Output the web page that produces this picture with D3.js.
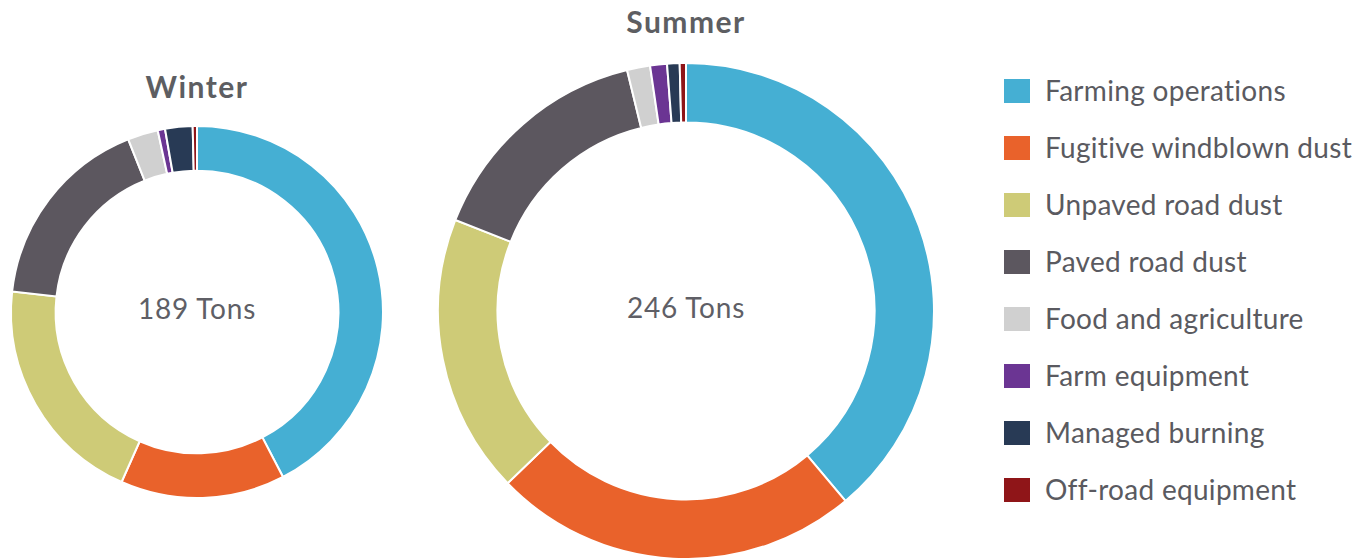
<!DOCTYPE html>
<html>
<head>
<meta charset="utf-8">
<script src="https://cdn.jsdelivr.net/npm/d3@7"></script>
<style>
  body { margin: 0; background: #fff; }
  svg { display: block; font-family: Lato, "Open Sans", sans-serif; }
</style>
</head>
<body>
<svg id="chart" width="1369" height="558"></svg>
<script>
// sources, in legend order
var categories = ["Farming operations", "Fugitive windblown dust", "Unpaved road dust",
  "Paved road dust", "Food and agriculture", "Farm equipment", "Managed burning", "Off-road equipment"];
var colors = ["#45afd3", "#e9622b", "#cecb77", "#5c575f", "#d0d0d0", "#6b3593", "#283a55", "#8f1518"];

// tons per source
var winterValues = [80, 27, 38, 32.5, 5, 1.2, 4.5, 0.7];
var summerValues = [95.7, 58.8, 44.8, 37.4, 3.7, 2.7, 2, 1];

var seasons = ["Winter", "Summer"];
var totals = ["189 Tons", "246 Tons"];

var svg = d3.select("#chart");
var color = d3.scaleOrdinal().domain(categories).range(colors);

var pie = d3.pie().sort(null).value(function(d) { return d.value; });

function donut(name, total, values, cx, cy, r, titleY) {
  var g = svg.append("g").attr("transform", "translate(" + cx + "," + cy + ")");
  var arc = d3.arc().innerRadius(r * 0.76).outerRadius(r);
  var rows = categories.map(function(c, i) { return {cat: c, value: values[i]}; });

  g.selectAll("path")
    .data(pie(rows))
    .enter().append("path")
    .attr("d", arc)
    .attr("fill", function(d) { return color(d.data.cat); })
    .attr("stroke", "#fff")
    .attr("stroke-width", 2);

  g.append("text")
    .attr("text-anchor", "middle")
    .attr("dy", "0.35em")
    .attr("y", -3)
    .style("font-size", "28px")
    .style("letter-spacing", "0.8px")
    .style("fill", "#5f5f66")
    .text(total);

  svg.append("text")
    .attr("x", cx)
    .attr("y", titleY)
    .attr("text-anchor", "middle")
    .attr("dy", "0.35em")
    .style("font-size", "30px")
    .style("font-weight", "bold")
    .style("letter-spacing", "1.5px")
    .style("fill", "#5d5e62")
    .text(name);
}

donut(seasons[0], totals[0], winterValues, 197, 312, 186, 87);
donut(seasons[1], totals[1], summerValues, 686, 311, 248, 22);

// legend
var legend = svg.append("g").attr("transform", "translate(1004,91)");
var item = legend.selectAll(".item")
  .data(categories)
  .enter().append("g")
  .attr("class", "item")
  .attr("transform", function(d, i) { return "translate(0," + i * 57 + ")"; });

item.append("rect")
  .attr("y", -12)
  .attr("width", 26)
  .attr("height", 24)
  .attr("fill", function(d) { return color(d); });

item.append("text")
  .attr("x", 41)
  .attr("dy", "0.35em")
  .style("font-size", "28px")
  .style("letter-spacing", "0.3px")
  .style("fill", "#5a5a60")
  .text(function(d) { return d; });
</script>
</body>
</html>
